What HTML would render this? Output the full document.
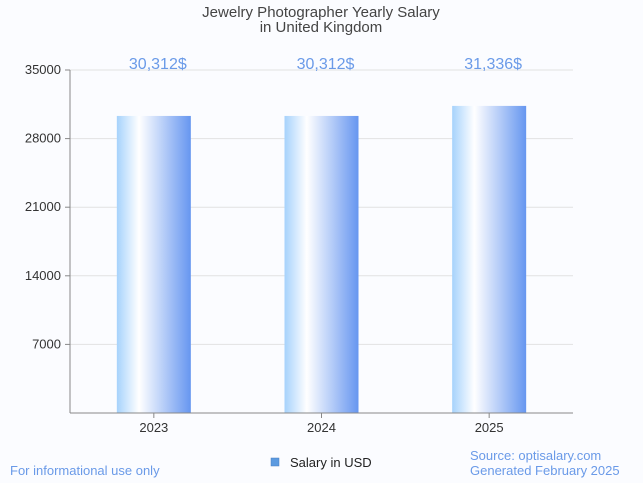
<!DOCTYPE html>
<html><head><meta charset="utf-8"><style>
body{margin:0;background:#fff;font-family:"Liberation Sans",sans-serif}
svg{display:block}
</style></head><body>
<svg width="643" height="483" xmlns="http://www.w3.org/2000/svg">
<defs><linearGradient id="g" x1="0" x2="1" y1="0" y2="0">
<stop offset="0" stop-color="#a6d2fc"/><stop offset="0.3" stop-color="#ffffff"/><stop offset="1" stop-color="#6696f0"/></linearGradient></defs>
<rect x="0" y="0" width="643" height="483" fill="#fbfcff"/>
<text x="321" y="17" text-anchor="middle" font-size="15" fill="#444">Jewelry Photographer Yearly Salary</text>
<text x="321" y="32" text-anchor="middle" font-size="15" fill="#444">in United Kingdom</text>
<g id="grid"></g><g id="bars"></g>
<line x1="70" y1="70" x2="70" y2="413" stroke="#888"/>
<line x1="70" y1="413" x2="573" y2="413" stroke="#888"/>
<rect x="271" y="458" width="8" height="8" fill="#5b9ae0" stroke="#4a7fc0" stroke-width="0.5"/>
<text x="290" y="467" font-size="13" fill="#222">Salary in USD</text>
<text x="10" y="475" font-size="13" fill="#6a9ae8">For informational use only</text>
<text x="470" y="460" font-size="13" fill="#6a9ae8">Source: optisalary.com</text>
<text x="470" y="475" font-size="13" fill="#6a9ae8">Generated February 2025</text>
</svg>
<script>
const categories=["2023","2024","2025"];
const values=[30312,30312,31336];
const valueLabels=["30,312$","30,312$","31,336$"];
const yTicks=[7000,14000,21000,28000,35000];
const ns="http://www.w3.org/2000/svg";
const y=v=>413-v/35000*343;
const x=i=>70+(i+0.5)*503/3;
function mk(t,a,p){const e=document.createElementNS(ns,t);for(const k in a)e.setAttribute(k,a[k]);p.appendChild(e);return e;}
const grid=document.getElementById('grid'),bars=document.getElementById('bars');
yTicks.forEach(t=>{
 const l=mk('line',{x1:70,x2:573,y1:y(t),y2:y(t),stroke:'#e2e2e2'},grid);
 
 
 const k=mk('line',{x1:65,x2:70,y1:y(t),y2:y(t),stroke:'#888'},grid);
 
 
 const tx=mk('text',{x:61,y:y(t)+4,'text-anchor':'end','font-size':13,fill:'#333'},grid);
 tx.textContent=t;
 
 
});
categories.forEach((c,i)=>{
 const r=mk('rect',{x:x(i)-37,y:y(values[i]),width:74,height:413-y(values[i]),fill:'url(#g)'},bars);
 
 
 const v=mk('text',{x:x(i)+4,y:69,'text-anchor':'middle','font-size':16,fill:'#6a9ae8'},bars);
 v.textContent=valueLabels[i];
 
 
 const k=mk('line',{x1:x(i),x2:x(i),y1:413,y2:418,stroke:'#888'},bars);
 
 
 const t=mk('text',{x:x(i),y:432,'text-anchor':'middle','font-size':13,fill:'#333'},bars);
 t.textContent=c;
 
 
});
</script>
</body></html>
